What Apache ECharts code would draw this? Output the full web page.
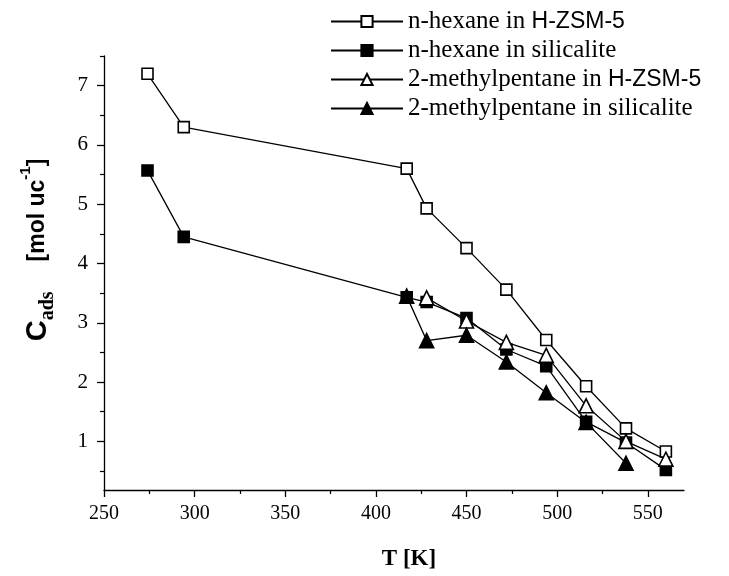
<!DOCTYPE html>
<html>
<head>
<meta charset="utf-8">
<script src="https://cdn.jsdelivr.net/npm/echarts@6/dist/echarts.min.js"></script>
<style>
  html, body { margin: 0; padding: 0; background: #fff; }
  #chart { width: 729px; height: 576px; }
</style>
</head>
<body>
<div id="chart"></div>
<script>
// data (T in K, C_ads in mol/uc)
const tHexZsm = [274, 294, 417, 428, 450, 472, 494, 516, 538, 560];
const hexZsm = [7.2, 6.3, 5.6, 4.93, 4.26, 3.56, 2.71, 1.93, 1.22, 0.83];

const tHexSil = [274, 294, 417, 428, 450, 472, 494, 516, 538, 560];
const hexSil = [5.57, 4.45, 3.43, 3.35, 3.08, 2.55, 2.27, 1.33, 0.98, 0.52];

const tMpZsm = [428, 450, 472, 494, 516, 538, 560];
const mpZsm = [3.42, 3.03, 2.67, 2.45, 1.6, 1.0, 0.7];

const tMpSil = [417, 428, 450, 472, 494, 516, 538];
const mpSil = [3.45, 2.7, 2.79, 2.34, 1.82, 1.32, 0.63];

const xTicks = [250, 300, 350, 400, 450, 500, 550];
const xMinor = [275, 325, 375, 425, 475, 525];
const yTicks = [1, 2, 3, 4, 5, 6, 7];
const yMinor = [0.5, 1.5, 2.5, 3.5, 4.5, 5.5, 6.5, 7.5];

const serif = "'Liberation Serif', 'Times New Roman', serif";
const sans = "'Liberation Sans', Arial, sans-serif";

const pairs = (xs, ys) => xs.map((x, i) => [x, ys[i]]);

const chart = echarts.init(document.getElementById("chart"));

const lineSeries = (name, xs, ys, symbol, filled, size, z) => ({
  name,
  type: "line",
  data: pairs(xs, ys),
  symbol,
  symbolSize: size,
  showAllSymbol: true,
  z,
  animation: false,
  lineStyle: { color: "#000", width: 1.3 },
  itemStyle: {
    color: filled ? "#000" : "#fff",
    borderColor: "#000",
    borderWidth: 1.6,
  },
  emphasis: { disabled: true },
});

// "H-ZSM-5" is set in a sans face in the original legend
const legendLabel = (name) => name.replace("H-ZSM-5", "{s|H-ZSM-5}");

chart.setOption({
  backgroundColor: "#fff",
  animation: false,
  legend: {
    orient: "vertical",
    left: 325,
    top: 4,
    itemWidth: 72,
    itemHeight: 14,
    itemGap: 4,
    formatter: legendLabel,
    textStyle: {
      fontFamily: serif,
      fontSize: 25,
      color: "#000",
      lineHeight: 25,
      rich: {
        s: { fontFamily: sans, fontSize: 23, color: "#000", lineHeight: 25 },
      },
    },
  },
  grid: {
    left: 104,
    right: 45,
    top: 56,
    bottom: 75,
    containLabel: false,
  },
  xAxis: [
    {
      type: "value",
      min: 250,
      max: 570,
      name: "T [K]",
      nameLocation: "middle",
      nameGap: 58,
      nameTextStyle: {
        fontFamily: serif,
        fontSize: 23,
        fontWeight: "bold",
        color: "#000",
        padding: [0, 0, 0, 30],
      },
      axisLine: { lineStyle: { color: "#000", width: 1.3 } },
      axisTick: {
        customValues: xTicks,
        length: 7,
        lineStyle: { color: "#000", width: 1.3 },
      },
      axisLabel: {
        customValues: xTicks,
        margin: 14,
        fontFamily: serif,
        fontSize: 20,
        color: "#000",
      },
      splitLine: { show: false },
    },
    {
      type: "value",
      min: 250,
      max: 570,
      position: "bottom",
      axisLine: { show: false },
      axisTick: {
        customValues: xMinor,
        length: 4,
        lineStyle: { color: "#000", width: 1.2 },
      },
      axisLabel: { show: false },
      splitLine: { show: false },
    },
  ],
  yAxis: [
    {
      type: "value",
      min: 0.18,
      max: 7.5,
      name: "{c|C}{sub|ads}{u|[mol uc}{sup|-1}{u|]}",
      nameLocation: "middle",
      nameRotate: 90,
      nameGap: 46,
      nameTextStyle: {
        color: "#000",
        padding: [0, 0, 0, 46],
        rich: {
          c: { fontFamily: sans, fontSize: 29, fontWeight: "bold", lineHeight: 40, verticalAlign: "middle" },
          sub: { fontFamily: serif, fontSize: 20, fontWeight: "bold", lineHeight: 40, verticalAlign: "bottom", padding: [0, 30, 0, 0] },
          u: { fontFamily: sans, fontSize: 23, fontWeight: "bold", lineHeight: 40, verticalAlign: "middle" },
          sup: { fontFamily: sans, fontSize: 15, fontWeight: "bold", lineHeight: 40, verticalAlign: "top" },
        },
      },
      axisLine: { show: true, lineStyle: { color: "#000", width: 1.3 } },
      axisTick: {
        show: true,
        customValues: yTicks,
        length: 7,
        lineStyle: { color: "#000", width: 1.3 },
      },
      axisLabel: {
        customValues: yTicks,
        margin: 16,
        fontFamily: serif,
        fontSize: 21,
        color: "#000",
      },
      splitLine: { show: false },
    },
    {
      type: "value",
      min: 0.18,
      max: 7.5,
      position: "left",
      axisLine: { show: false },
      axisTick: {
        show: true,
        customValues: yMinor,
        length: 4,
        lineStyle: { color: "#000", width: 1.2 },
      },
      axisLabel: { show: false },
      splitLine: { show: false },
    },
  ],
  series: [
    lineSeries("n-hexane in H-ZSM-5", tHexZsm, hexZsm, "rect", false, 11, 2),
    lineSeries("n-hexane in silicalite", tHexSil, hexSil, "rect", true, 11, 3),
    lineSeries("2-methylpentane in H-ZSM-5", tMpZsm, mpZsm, "triangle", false, 14, 4),
    lineSeries("2-methylpentane in silicalite", tMpSil, mpSil, "triangle", true, 14, 5),
  ],
});
</script>
</body>
</html>
